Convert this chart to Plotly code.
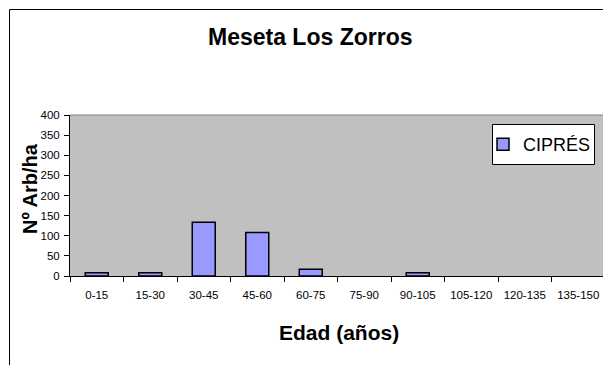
import plotly.graph_objects as go

# Age classes (years) and tree density for cypress
edad = ["0-15", "15-30", "30-45", "45-60", "60-75",
        "75-90", "90-105", "105-120", "120-135", "135-150"]
cipres = [8.3, 8.3, 133.3, 108.3, 16.7, 0, 8.3, 0, 0, 0]
y_ticks = [0, 50, 100, 150, 200, 250, 300, 350, 400]

W, H = 603, 365
L, T, B = 70, 115, 89
PW = W - L
PH = H - T - B
CAT_W = 53.5


def px_x(x):
    return (x - L) / PW


def px_y(y):
    return (H - B - y) / PH


# empty classes get no bar at all (not even an outline)
bar_vals = [v if v > 0 else None for v in cipres]

fig = go.Figure()
fig.add_trace(go.Bar(
    x=edad, y=bar_vals, name="CIPRÉS",
    marker=dict(color="#9999FF", line=dict(color="#000000", width=1.5)),
))

font = "Liberation Sans, Arial, sans-serif"

fig.update_layout(
    width=W, height=H,
    margin=dict(l=L, r=0, t=T, b=B),
    paper_bgcolor="#FFFFFF",
    plot_bgcolor="#C0C0C0",
    bargap=0.57,
    font=dict(family=font, color="#000000"),
    showlegend=True,
    legend=dict(
        x=px_x(483), y=px_y(144.5), xanchor="left", yanchor="middle",
        bgcolor="rgba(0,0,0,0)", borderwidth=0,
        font=dict(size=18, family=font),
    ),
    xaxis=dict(
        type="category",
        range=[-0.5, -0.5 + PW / CAT_W],
        showline=True, linecolor="#000000", linewidth=1,
        ticks="outside", tickson="boundaries", ticklen=5,
        tickcolor="#000000", tickfont=dict(size=11.5, family=font),
        ticklabelstandoff=8,
        showgrid=False, zeroline=False,
    ),
    yaxis=dict(
        range=[0, 400], tickvals=y_ticks,
        showline=True, linecolor="#000000", linewidth=1,
        ticks="outside", ticklen=5, tickcolor="#000000",
        tickfont=dict(size=11.5, family=font),
        ticklabelstandoff=2,
        showgrid=False, zeroline=False,
    ),
    shapes=[
        # top edge of the plot area
        dict(type="line", xref="paper", yref="paper", x0=0, x1=1, y0=1, y1=1,
             line=dict(color="#808080", width=1)),
        # legend box
        dict(type="rect", xref="paper", yref="paper", layer="above",
             x0=px_x(492.5), x1=px_x(594.5), y0=px_y(124.5), y1=px_y(164.5),
             fillcolor="#FFFFFF", line=dict(color="#000000", width=1)),
        # chart frame (left and top edges)
        dict(type="line", xref="paper", yref="paper",
             x0=px_x(9.5), x1=px_x(9.5), y0=px_y(9.5), y1=px_y(H + 2),
             line=dict(color="#000000", width=1)),
        dict(type="line", xref="paper", yref="paper",
             x0=px_x(9.5), x1=px_x(W + 2), y0=px_y(9.5), y1=px_y(9.5),
             line=dict(color="#000000", width=1)),
    ],
    annotations=[
        dict(text="<b>Meseta Los Zorros</b>", xref="paper", yref="paper",
             x=px_x(310), y=px_y(37), xanchor="center", yanchor="middle",
             showarrow=False, font=dict(size=23, family=font)),
        dict(text="<b>Nº Arb/ha</b>", xref="paper", yref="paper",
             x=px_x(30), y=px_y(188), xanchor="center", yanchor="middle",
             textangle=-90, showarrow=False, font=dict(size=20, family=font)),
        dict(text="<b>Edad (años)</b>", xref="paper", yref="paper",
             x=px_x(338.5), y=px_y(332), xanchor="center", yanchor="middle",
             showarrow=False, font=dict(size=21, family=font)),
    ],
)

fig.write_html("out.html")
